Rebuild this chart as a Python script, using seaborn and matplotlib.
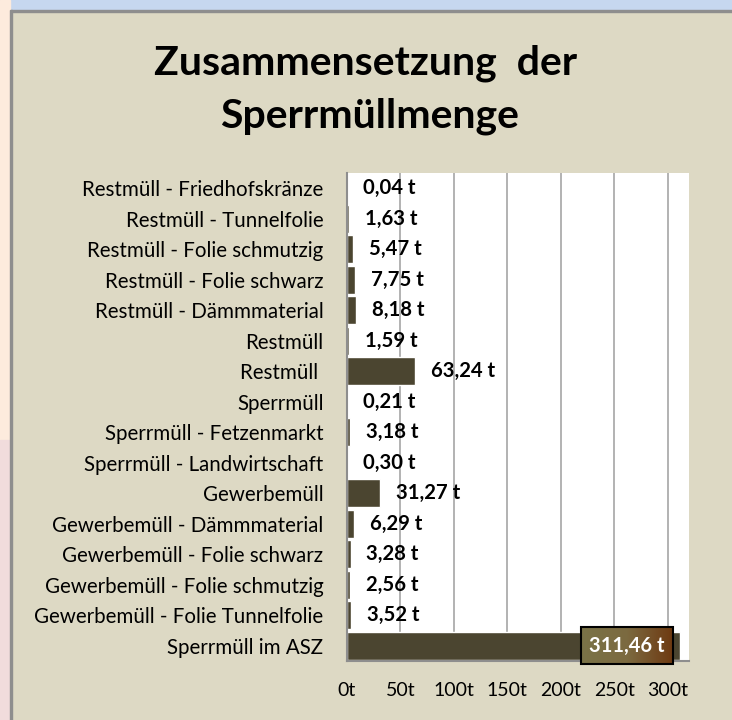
import numpy as np
import pandas as pd
import seaborn as sns
import matplotlib.pyplot as plt
from matplotlib.patches import Rectangle
from matplotlib.colors import LinearSegmentedColormap

# categories and values (tonnes), top to bottom
categories = [
    'Restmüll - Friedhofskränze',
    'Restmüll - Tunnelfolie',
    'Restmüll - Folie schmutzig',
    'Restmüll - Folie schwarz',
    'Restmüll - Dämmmaterial',
    'Restmüll',
    'Restmüll ',
    'Sperrmüll',
    'Sperrmüll - Fetzenmarkt',
    'Sperrmüll - Landwirtschaft',
    'Gewerbemüll',
    'Gewerbemüll - Dämmmaterial',
    'Gewerbemüll - Folie schwarz',
    'Gewerbemüll - Folie schmutzig',
    'Gewerbemüll - Folie Tunnelfolie',
    'Sperrmüll im ASZ',
]
values = [0.04, 1.63, 5.47, 7.75, 8.18, 1.59, 63.24, 0.21, 3.18, 0.30,
          31.27, 6.29, 3.28, 2.56, 3.52, 311.46]
xticks = [0, 50, 100, 150, 200, 250, 300]

df = pd.DataFrame({'kat': categories, 'menge': values})

sns.set_style('white')
plt.rcParams['font.family'] = ['Lato', 'DejaVu Sans']
plt.rcParams['text.color'] = 'black'
plt.rcParams['xtick.labelcolor'] = 'black'
plt.rcParams['ytick.labelcolor'] = 'black'

beige = '#DDD9C4'
bar_col = '#4B4530'

fig = plt.figure(figsize=(7.32, 7.2), dpi=100)
fig.patch.set_facecolor(beige)

# window frame bits around the chart
fig.patches.append(Rectangle((0, 1 - 10/720), 1, 10/720, transform=fig.transFigure,
                             color='#C6D7EF', zorder=0))
fig.patches.append(Rectangle((0, 1 - 12/720), 1, 2/720, transform=fig.transFigure,
                             color='#8E8E8E', zorder=0))
fig.patches.append(Rectangle((0, 280/720), 10/732, 440/720, transform=fig.transFigure,
                             color='#FDEBDD', zorder=0))
fig.patches.append(Rectangle((0, 0), 10/732, 280/720, transform=fig.transFigure,
                             color='#F1DCDC', zorder=0))
fig.patches.append(Rectangle((10/732, 0), 2/732, 1 - 10/720, transform=fig.transFigure,
                             color='#8E8E8E', zorder=0))

ax = fig.add_axes([347/732, 59/720, 342/732, 488/720])
ax.set_facecolor('white')

sns.barplot(data=df, x='menge', y='kat', color=bar_col, saturation=1,
            width=0.92, ax=ax, orient='h')

ax.set_xlim(0, 320)
ax.set_ylim(len(categories) - 0.5, -0.5)
ax.set_xticks(xticks)
ax.set_xticklabels([f'{t}t' for t in xticks], fontsize=14)
ax.set_xlabel('')
ax.set_ylabel('')
ax.tick_params(axis='y', length=0, labelsize=14.8, pad=17)
ax.tick_params(axis='x', length=5, color='#8E8E8E', width=1.2, direction='out', pad=10)
ax.set_yticks(np.arange(-0.5, len(categories), 1), minor=True)
ax.tick_params(axis='y', which='minor', length=6, color='#8E8E8E', width=1.2)
ax.grid(axis='x', color='#A6A6A6', linewidth=1.2)
ax.set_axisbelow(True)
for s in ['top', 'right']:
    ax.spines[s].set_visible(False)
for s in ['left', 'bottom']:
    ax.spines[s].set_color('#8E8E8E')
    ax.spines[s].set_linewidth(1.5)

# value labels
for i, v in enumerate(values[:-1]):
    ax.annotate(f'{v:.2f} t'.replace('.', ','), (v, i), xytext=(11.5, 0),
                textcoords='offset points', ha='left', va='center',
                fontsize=14.6, fontweight='bold', color='black')

# last label in a gradient box
last = len(values) - 1
grad = LinearSegmentedColormap.from_list('g', ['#7A7348', '#7C6A40', '#6E3A12'])
bx0, bx1 = 219, 305
by0, by1 = last - 0.6, last + 0.6
ax.imshow(np.linspace(0, 1, 100)[None, :], cmap=grad, aspect='auto',
          extent=[bx0, bx1, by1, by0], zorder=4, clip_on=False)
ax.add_patch(Rectangle((bx0, by0), bx1 - bx0, by1 - by0, fill=False,
                       edgecolor='black', linewidth=1.5, zorder=5, clip_on=False))
ax.text((bx0 + bx1) / 2, last, f'{values[last]:.2f} t'.replace('.', ','),
        ha='center', va='center', fontsize=14.5, fontweight='bold', color='white', zorder=6)
ax.set_xlim(0, 320)
ax.set_ylim(len(categories) - 0.5, -0.5)

fig.text(366/732, 1 - 63/720, 'Zusammensetzung  der', ha='center', va='center',
         fontsize=29.5, fontweight='bold', color='black')
fig.text(370/732, 1 - 116/720, 'Sperrmüllmenge', ha='center', va='center',
         fontsize=29.5, fontweight='bold', color='black')

fig.savefig('out.png', dpi=100, facecolor=beige)
